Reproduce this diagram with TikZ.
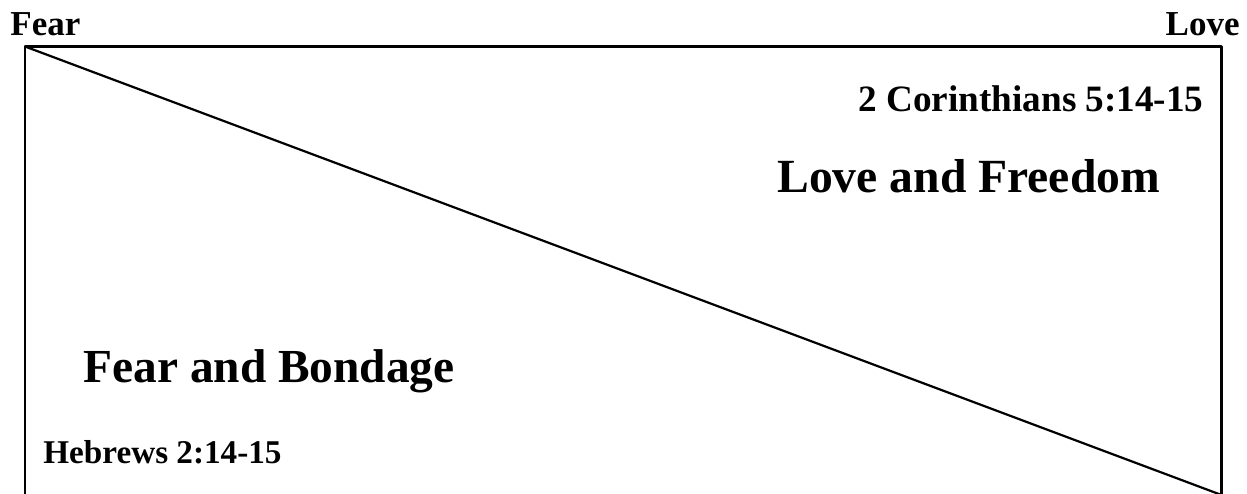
\documentclass[tikz,border=0pt]{standalone}
\usepackage{fontspec}
\setmainfont{Liberation Serif}
\usetikzlibrary{calc,positioning}

\begin{document}
\begin{tikzpicture}[x=0.5pt,y=-0.5pt,line join=round,line cap=round,
  lbl/.style={inner sep=0pt,font=\bfseries\fontsize{#1}{#1}\selectfont}]
\useasboundingbox (0,0) rectangle (1247,493);
\clip (0,0) rectangle (1247,493);
\coordinate (A) at (25,46.5);
\coordinate (C) at (1221.5,495);
\coordinate (B) at (A-|C);
\coordinate (D) at (A|-C);
\draw[line width=1.3pt] (D)--(A)--(B)--(C)--cycle;
\draw[line width=1.1pt] (A)--(C);
\node[lbl=17.5pt,anchor=base west] (fear) at (10,35) {Fear};
\node[lbl=17.5pt,anchor=base east] (love) at (1240,35) {Love};
\node[lbl=18.6pt,anchor=base west] (cor) at (858,111) {2 Corinthians 5:14-15};
\node[lbl=23.8pt,anchor=base west] (free) at (777,192) {Love and Freedom};
\node[lbl=23.7pt,anchor=base west] (bond) at (83,382) {Fear and Bondage};
\node[lbl=16.6pt,anchor=base west] (heb) at (43,463) {Hebrews 2:14-15};
\end{tikzpicture}
\end{document}
